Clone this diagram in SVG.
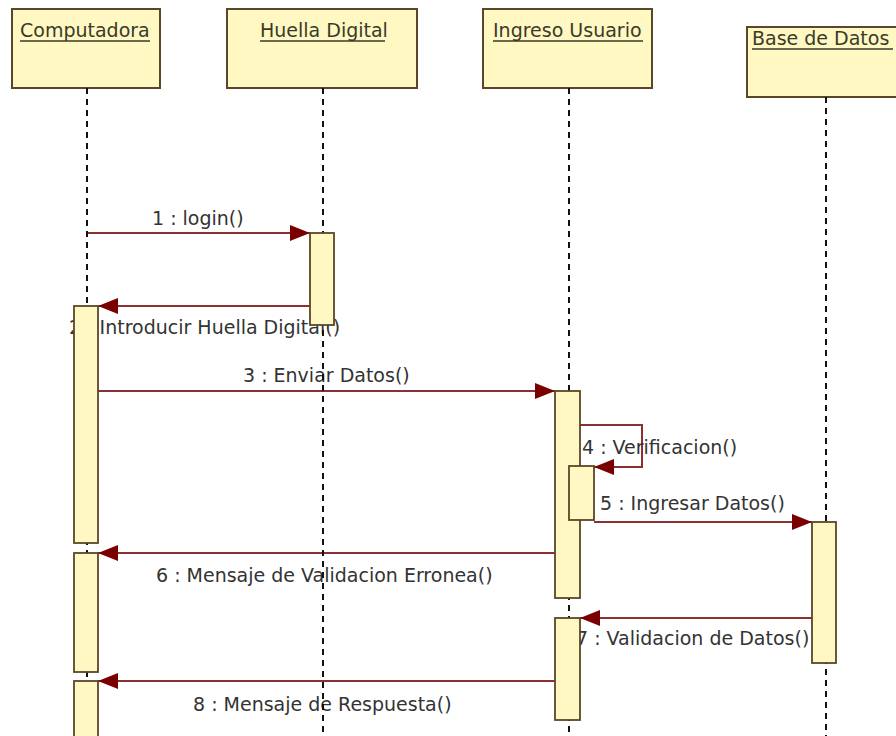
<svg xmlns="http://www.w3.org/2000/svg" width="896" height="736" viewBox="0 0 896 736">
  <style>
    .head { fill: #fff8c2; stroke: #5a4628; stroke-width: 2; }
    .act { fill: #fff8c2; stroke: #5a4628; stroke-width: 1.8; }
    .life { stroke: #111; stroke-width: 2; stroke-dasharray: 6 5; fill: none; }
    .msg { stroke: #8a3030; stroke-width: 2; fill: none; }
    .title { font-family: "DejaVu Sans", "Liberation Sans", sans-serif; font-size: 19px; fill: #3a3a2a; }
    .uline { stroke: #3a3a2a; stroke-width: 1.5; }
    .lbl { font-family: "DejaVu Sans", "Liberation Sans", sans-serif; font-size: 19px; fill: #333; }
  </style>
  <defs>
    <marker id="arrow" viewBox="0 0 20 16" refX="20" refY="8" markerWidth="20" markerHeight="16" markerUnits="userSpaceOnUse" orient="auto">
      <path d="M0,0 L20,8 L0,16 Z" fill="#7a0000"/>
    </marker>
  </defs>

  <rect width="896" height="736" fill="#ffffff"/>

  <!-- messages and their labels -->
  <g id="connectors">
    <line class="msg" x1="88" y1="233" x2="310" y2="233" marker-end="url(#arrow)"/>
    <text class="lbl" x="152" y="225">1 : login()</text>

    <line class="msg" x1="310" y1="306" x2="98" y2="306" marker-end="url(#arrow)"/>
    <text class="lbl" x="69" y="334">2 : Introducir Huella Digital()</text>

    <line class="msg" x1="98" y1="391" x2="555" y2="391" marker-end="url(#arrow)"/>
    <text class="lbl" x="243" y="382">3 : Enviar Datos()</text>

    <polyline class="msg" points="580,425 642,425 642,467 594,467" marker-end="url(#arrow)"/>
    <text class="lbl" x="582" y="454">4 : Verificacion()</text>

    <line class="msg" x1="594" y1="522" x2="812" y2="522" marker-end="url(#arrow)"/>
    <text class="lbl" x="600" y="510">5 : Ingresar Datos()</text>

    <line class="msg" x1="555" y1="553" x2="98" y2="553" marker-end="url(#arrow)"/>
    <text class="lbl" x="156" y="582">6 : Mensaje de Validacion Erronea()</text>

    <line class="msg" x1="812" y1="618" x2="580" y2="618" marker-end="url(#arrow)"/>
    <text class="lbl" x="576" y="645">7 : Validacion de Datos()</text>

    <line class="msg" x1="555" y1="681" x2="98" y2="681" marker-end="url(#arrow)"/>
    <text class="lbl" x="193" y="711">8 : Mensaje de Respuesta()</text>
  </g>

  <!-- Computadora -->
  <g id="computadora">
    <rect class="head" x="12" y="9" width="148" height="79"/>
    <text class="title" x="20" y="37">Computadora</text>
    <line class="uline" x1="20" y1="41" x2="150" y2="41"/>
    <line class="life" x1="87" y1="88" x2="87" y2="736"/>
    <rect class="act" x="74" y="306" width="24" height="237"/>
    <rect class="act" x="74" y="553" width="24" height="119"/>
    <rect class="act" x="74" y="681" width="24" height="62"/>
  </g>

  <!-- Huella Digital -->
  <g id="huella">
    <rect class="head" x="227" y="9" width="190" height="79"/>
    <text class="title" x="260" y="37">Huella Digital</text>
    <line class="uline" x1="260" y1="41" x2="385" y2="41"/>
    <line class="life" x1="323" y1="88" x2="323" y2="736"/>
    <rect class="act" x="310" y="233" width="24" height="92"/>
  </g>

  <!-- Ingreso Usuario -->
  <g id="ingreso">
    <rect class="head" x="483" y="9" width="169" height="79"/>
    <text class="title" x="493" y="37">Ingreso Usuario</text>
    <line class="uline" x1="493" y1="41" x2="643" y2="41"/>
    <line class="life" x1="569" y1="88" x2="569" y2="736"/>
    <rect class="act" x="555" y="391" width="25" height="207"/>
    <rect class="act" x="569" y="466" width="25" height="54"/>
    <rect class="act" x="555" y="618" width="25" height="102"/>
  </g>

  <!-- Base de Datos -->
  <g id="basedatos">
    <rect class="head" x="747" y="27" width="160" height="70"/>
    <text class="title" x="752" y="45">Base de Datos</text>
    <line class="uline" x1="752" y1="49" x2="893" y2="49"/>
    <line class="life" x1="826" y1="97" x2="826" y2="736"/>
    <rect class="act" x="812" y="522" width="24" height="141"/>
  </g>
</svg>
